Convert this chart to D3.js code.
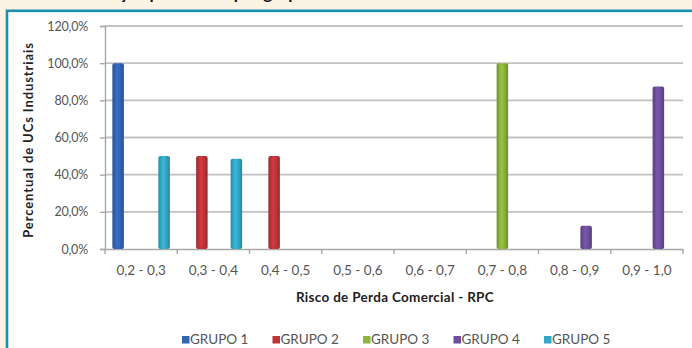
<!DOCTYPE html>
<html>
<head>
<meta charset="utf-8">
<script src="https://cdn.jsdelivr.net/npm/d3@7"></script>
<style>
  html, body { margin: 0; padding: 0; background: #fdf3e4; }
  svg { display: block; }
</style>
</head>
<body>
<svg id="chart" width="692" height="348"></svg>
<script>
// Risk bands (x categories)
const categories = ["0,2 - 0,3", "0,3 - 0,4", "0,4 - 0,5", "0,5 - 0,6", "0,6 - 0,7", "0,7 - 0,8", "0,8 - 0,9", "0,9 - 1,0"];
// Share of industrial consumer units per group in each band (%)
const grupo1 = [100, 0, 0, 0, 0, 0, 0, 0];
const grupo2 = [0, 50, 50, 0, 0, 0, 0, 0];
const grupo3 = [0, 0, 0, 0, 0, 100, 0, 0];
const grupo4 = [0, 0, 0, 0, 0, 0, 12.5, 87.5];
const grupo5 = [50, 48.5, 0, 0, 0, 0, 0, 0];
const seriesNames = ["GRUPO 1", "GRUPO 2", "GRUPO 3", "GRUPO 4", "GRUPO 5"];
const yTicks = [0, 20, 40, 60, 80, 100, 120];

const seriesValues = [grupo1, grupo2, grupo3, grupo4, grupo5];
const colors = ["#3465b5", "#c0353a", "#8cb43a", "#6e4f9f", "#34a8c8"];

const svg = d3.select("#chart");
const font = "Lato, 'Open Sans', sans-serif";

// Caption line above the frame (only its lower edge falls inside the page)
svg.append("text")
  .attr("x", -12).attr("y", -1)
  .attr("font-family", font).attr("font-weight", "bold").attr("font-size", 17)
  .attr("fill", "#111")
  .text("gura 5 – Distribuição percentual por grupo de UCs");

// White frame with teal border
svg.append("rect")
  .attr("x", 7).attr("y", 10.8).attr("width", 700).attr("height", 360)
  .attr("fill", "#ffffff").attr("stroke", "#1b8fb0").attr("stroke-width", 2.6);

const x0 = d3.scaleBand().domain(categories).range([105, 683]).paddingInner(0).paddingOuter(0);
const y = d3.scaleLinear().domain([0, 120]).range([249, 26]);

// Bars inside a band: 5 slots with a gap on each side
const bandW = x0.bandwidth();
const x1 = d3.scaleBand().domain(seriesNames)
  .range([0, bandW]).paddingOuter(0.64).paddingInner(0);

// Gradients giving each bar a rounded, shaded look
const defs = svg.append("defs");
colors.forEach((c, i) => {
  const base = d3.color(c);
  const g = defs.append("linearGradient").attr("id", "grad" + i)
    .attr("x1", "0%").attr("x2", "100%").attr("y1", "0%").attr("y2", "0%");
  g.append("stop").attr("offset", "0%").attr("stop-color", base.darker(0.6));
  g.append("stop").attr("offset", "40%").attr("stop-color", base.brighter(0.25));
  g.append("stop").attr("offset", "65%").attr("stop-color", base);
  g.append("stop").attr("offset", "100%").attr("stop-color", base.darker(0.7));
});

// Gridlines
svg.append("g")
  .selectAll("line").data(yTicks.filter(d => d > 0)).join("line")
  .attr("x1", 105).attr("x2", 683)
  .attr("y1", d => y(d)).attr("y2", d => y(d))
  .attr("stroke", "#c2c2c2").attr("stroke-width", 1.8);

// Y axis
const yAxis = svg.append("g").attr("transform", "translate(105,0)")
  .call(d3.axisLeft(y).tickValues(yTicks).tickSize(5).tickPadding(12)
    .tickFormat(d => d3.format(".1f")(d).replace(".", ",") + "%"));
yAxis.select(".domain").attr("stroke", "#a8a8a8").attr("stroke-width", 1.4);
yAxis.selectAll(".tick line").attr("stroke", "#a8a8a8").attr("stroke-width", 1.4);
yAxis.selectAll(".tick text").attr("font-family", font).attr("font-size", 12.5)
  .attr("fill", "#555").attr("letter-spacing", -0.2);

// X axis
const xAxis = svg.append("g").attr("transform", "translate(0,249)")
  .call(d3.axisBottom(x0).tickSize(0).tickPadding(16));
xAxis.select(".domain").attr("stroke", "#a8a8a8").attr("stroke-width", 1.6);
xAxis.selectAll(".tick text").attr("font-family", font).attr("font-size", 13.5).attr("fill", "#555");
// Tick marks between categories
svg.append("g").selectAll("line")
  .data(d3.range(categories.length + 1)).join("line")
  .attr("x1", i => 105 + i * bandW).attr("x2", i => 105 + i * bandW)
  .attr("y1", 249).attr("y2", 254)
  .attr("stroke", "#a8a8a8").attr("stroke-width", 1.4);

// Bars
seriesValues.forEach((vals, si) => {
  svg.append("g")
    .selectAll("rect").data(vals.map((v, ci) => ({ v, c: categories[ci] })).filter(d => d.v > 0))
    .join("rect")
    .attr("x", d => x0(d.c) + x1(seriesNames[si]))
    .attr("width", x1.bandwidth())
    .attr("y", d => y(d.v))
    .attr("height", d => y(0) - y(d.v))
    .attr("rx", 2)
    .attr("fill", "url(#grad" + si + ")");
});

// Axis titles
svg.append("text")
  .attr("transform", "translate(33,140) rotate(-90)")
  .attr("text-anchor", "middle")
  .attr("font-family", font).attr("font-weight", "bold").attr("font-size", 13)
  .attr("letter-spacing", 0.9)
  .attr("fill", "#222")
  .text("Percentual de UCs Industriais");

svg.append("text")
  .attr("x", 395).attr("y", 302)
  .attr("text-anchor", "middle")
  .attr("font-family", font).attr("font-weight", "bold").attr("font-size", 13.5)
  .attr("letter-spacing", 0.3)
  .attr("fill", "#222")
  .text("Risco de Perda Comercial - RPC");

// Legend
const legend = svg.append("g").attr("transform", "translate(182,344)");
const item = legend.selectAll("g").data(seriesNames).join("g")
  .attr("transform", (d, i) => `translate(${i * 90.5},0)`);
item.append("rect")
  .attr("x", 0).attr("y", -8).attr("width", 7.5).attr("height", 7.5)
  .attr("fill", (d, i) => colors[i]);
item.append("text")
  .attr("x", 8).attr("y", 0)
  .attr("font-family", font).attr("font-size", 13.5).attr("fill", "#555")
  .text(d => d);
</script>
</body>
</html>
